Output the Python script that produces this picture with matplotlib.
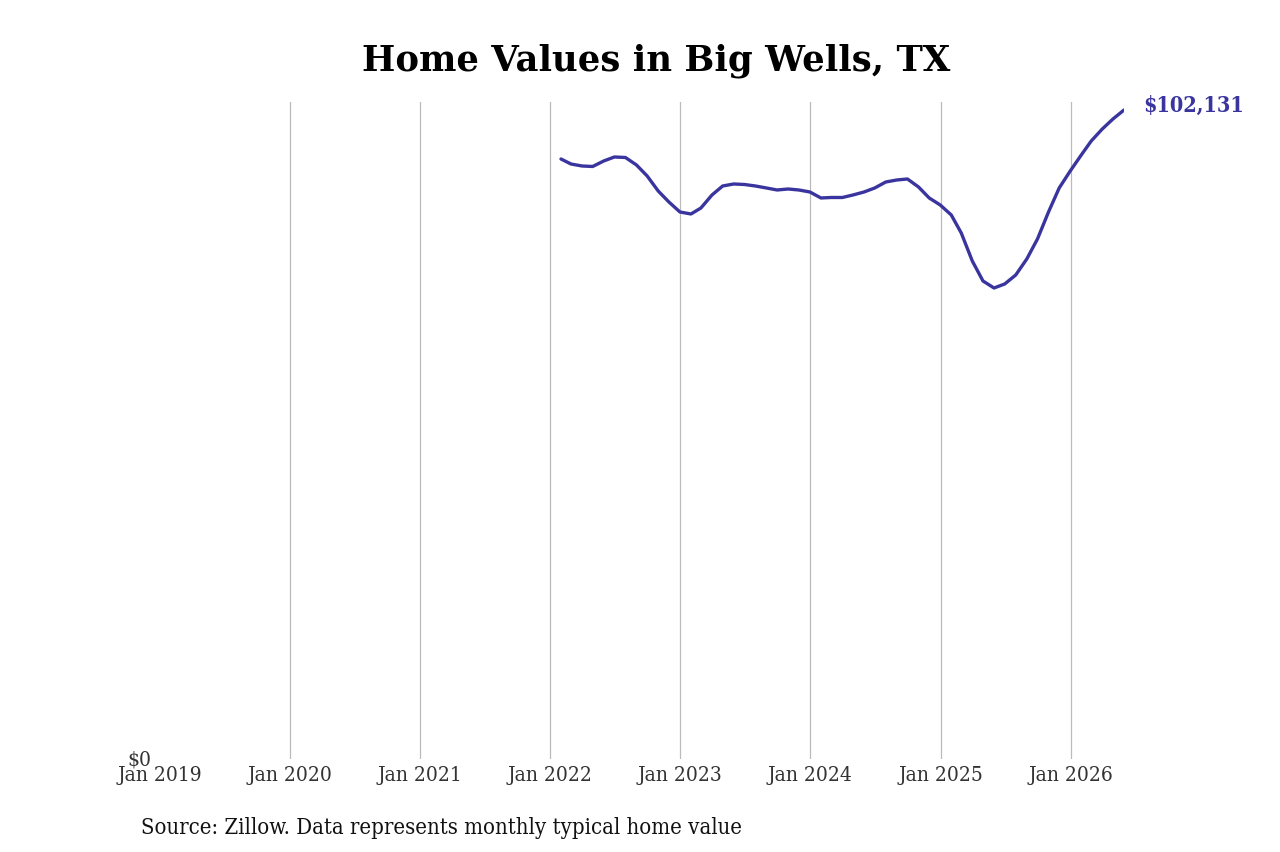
import matplotlib
matplotlib.use("Agg")
import matplotlib.pyplot as plt
import pandas as pd

# monthly typical home value, Big Wells TX (Zillow), Jan 2022 - May 2026
dates = pd.date_range("2022-01-31", "2026-05-31", freq="ME")
values = [
    94422, 93635, 93320, 93242, 94107, 94737, 94658, 93478, 91747, 89386,
    87655, 86081, 85767, 86711, 88757, 90173, 90488, 90409, 90173, 89858,
    89544, 89701, 89544, 89229, 88285, 88363, 88363, 88757, 89229, 89858,
    90802, 91117, 91275, 90016, 88285, 87183, 85609, 82777, 78370, 75223,
    74121, 74751, 76167, 78685, 81832, 86081, 89858, 92534, 95051, 97255,
    99143, 100717, 102131,
]
tick_years = list(range(2019, 2027))
tick_labels = [f"Jan {y}" for y in tick_years]

line_color = "#3a359e"
serif = "DejaVu Serif"

fig = plt.figure(figsize=(12.8, 8.53), dpi=100)
ax = fig.add_axes([160 / 1280, 1 - 760 / 853, (1124 - 160) / 1280, (760 - 103) / 853])

ax.plot(dates, values, color=line_color, linewidth=2.4, solid_capstyle="round")

ax.set_xlim(pd.Timestamp("2019-01-01"), dates[-1])
ax.set_ylim(0, values[-1] * (657 / 649))

ticks = [pd.Timestamp(f"{y}-01-01") for y in tick_years]
ax.set_xticks(ticks)
ax.set_xticklabels(tick_labels, family=serif, fontstretch="condensed", fontsize=15, color="#333333")
ax.set_yticks([0])
ax.set_yticklabels(["$0"], family=serif, fontstretch="condensed", fontsize=15, color="#333333")
ax.tick_params(axis="x", length=0, pad=4)
ax.tick_params(axis="y", length=0, pad=6)
for lbl in ax.get_yticklabels():
    lbl.set_verticalalignment("center")

ax.grid(axis="x", color="#bbbbbb", linewidth=0.9)
ax.xaxis.get_gridlines()[0].set_visible(False)  # no line at the left edge
ax.set_axisbelow(True)
for s in ax.spines.values():
    s.set_visible(False)

ax.annotate(f"${values[-1]:,}", xy=(dates[-1], values[-1]), xytext=(14, 4),
            textcoords="offset points", color=line_color, fontsize=15.5, fontweight="bold",
            family=serif, fontstretch="condensed", va="center", ha="left", annotation_clip=False)

fig.text(656 / 1280, 1 - 61 / 853, "Home Values in Big Wells, TX", family=serif,
         fontweight="bold", fontsize=25.5, ha="center", va="center")
fig.text(141 / 1280, 1 - 828 / 853, "Source: Zillow. Data represents monthly typical home value",
         family=serif, fontstretch="condensed", fontsize=15.8, ha="left", va="center", color="#111111")

fig.savefig("out.png", dpi=100, facecolor="white")
plt.close(fig)
